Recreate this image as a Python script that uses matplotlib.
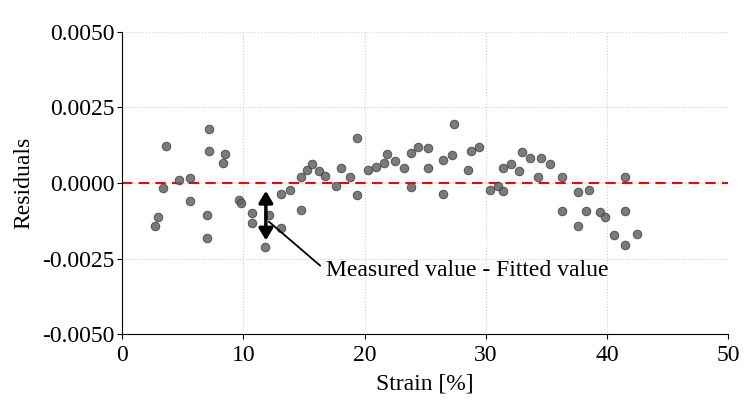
import numpy as np
import matplotlib.pyplot as plt

plt.rcParams['font.family'] = ['Liberation Serif', 'DejaVu Serif']

strain = [2.67, 2.95, 3.33, 3.61, 4.70, 5.59, 5.59, 6.96, 6.96, 7.12,
          7.12, 8.28, 8.50, 9.63, 9.79, 10.70, 10.70, 11.80, 12.13, 13.12,
          13.12, 13.84, 14.71, 14.71, 15.21, 15.62, 16.25, 16.75, 17.63, 18.01,
          18.75, 19.41, 19.41, 20.27, 20.96, 21.59, 21.81, 22.50, 23.21, 23.84,
          23.84, 24.42, 25.25, 25.19, 26.49, 26.49, 27.17, 27.39, 28.52, 28.77,
          29.43, 30.31, 30.97, 31.44, 31.44, 32.07, 32.70, 32.95, 33.61, 34.32,
          34.51, 35.26, 36.28, 36.28, 37.62, 37.62, 38.28, 38.53, 39.41, 39.79,
          40.54, 41.44, 41.44, 41.44, 42.49]
residuals = [-1.44, -1.14, -0.17, 1.23, 0.09, 0.16, -0.59, -1.07, -1.82, 1.80,
             1.06, 0.67, 0.96, -0.56, -0.66, -0.99, -1.34, -2.12, -1.07, -0.38,
             -1.50, -0.23, 0.19, -0.91, 0.42, 0.62, 0.38, 0.22, -0.11, 0.48,
             0.21, 1.49, -0.40, 0.42, 0.53, 0.67, 0.97, 0.74, 0.48, 1.00,
             -0.14, 1.20, 1.16, 0.50, 0.77, -0.37, 0.91, 1.94, 0.42, 1.06,
             1.20, -0.23, -0.11, -0.27, 0.48, 0.62, 0.38, 1.03, 0.81, 0.19,
             0.84, 0.62, 0.19, -0.92, -0.31, -1.41, -0.92, -0.23, -0.95, -1.12,
             -1.73, 0.21, -0.92, -2.06, -1.69]
residuals = np.array(residuals) * 1e-3

fig = plt.figure(figsize=(7.5, 4.13), dpi=100)
ax = fig.add_axes([0.163, 0.191, 0.808, 0.732])

ax.scatter(strain, residuals, s=38, color='#646464', alpha=0.85,
           edgecolors='#444444', linewidths=0.7, zorder=3)
ax.axhline(0, color='red', linestyle='--', linewidth=1.5, dashes=(5, 3), zorder=2)

# arrow between fitted line and a measured point
ax.annotate('', xy=(11.85, -0.0019), xytext=(11.85, -0.00026),
            arrowprops=dict(arrowstyle='<|-|>,head_length=0.5,head_width=0.3',
                            color='black', lw=2.5, mutation_scale=14,
                            shrinkA=0, shrinkB=0), zorder=4)
ax.annotate('Measured value - Fitted value', xy=(12.1, -0.00128),
            xytext=(16.8, -0.00291), fontsize=17, va='center', ha='left',
            arrowprops=dict(arrowstyle='-', color='black', lw=1.3,
                            shrinkA=0, shrinkB=0, relpos=(-0.02, 0.75)))

ax.set_xlim(0, 50)
ax.set_ylim(-0.005, 0.005)
ax.set_xticks([0, 10, 20, 30, 40, 50])
ax.set_yticks([-0.005, -0.0025, 0, 0.0025, 0.005])
ax.set_yticklabels(['-0.0050', '-0.0025', '0.0000', '0.0025', '0.0050'])
ax.tick_params(labelsize=17)
ax.tick_params(axis='x', pad=4)
ax.tick_params(axis='y', pad=2)
ax.grid(True, linestyle=':', color='#d0d0d0', linewidth=0.8)
ax.set_axisbelow(True)
ax.spines['top'].set_visible(False)
ax.spines['right'].set_visible(False)
ax.set_xlabel('Strain [%]', fontsize=17, labelpad=6)
ax.set_ylabel('Residuals', fontsize=17, labelpad=6)

fig.savefig('out.png', dpi=100)
